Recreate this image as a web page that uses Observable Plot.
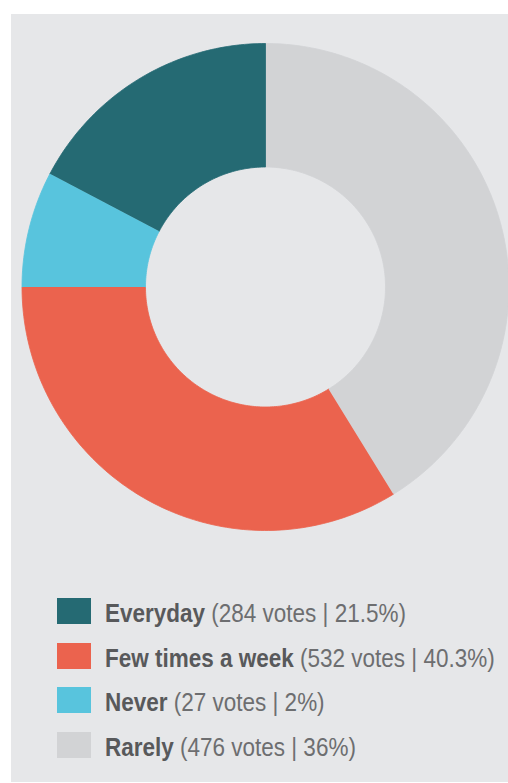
<!DOCTYPE html>
<html>
<head>
<meta charset="utf-8">
<script src="https://cdn.jsdelivr.net/npm/d3@7"></script>
<script src="https://cdn.jsdelivr.net/npm/@observablehq/plot@0.6"></script>
<style>
  html, body { margin: 0; padding: 0; background: #ffffff; overflow: hidden; width: 508px; height: 783px; }
  #panel { position: absolute; left: 11px; top: 14px; width: 497px; height: 768px; background: #e6e7e9; }
  #chart { position: absolute; left: 0; top: 0; }
  .row { position: absolute; left: 57px; height: 26px; display: flex; align-items: flex-start; white-space: nowrap; }
  .sw { width: 34px; height: 26px; flex: none; }
  .txt { margin-left: 14px; position: relative; top: 2px; font-family: "Liberation Sans", Arial, sans-serif; font-size: 26px; line-height: 26px;
         transform: scaleX(0.865); transform-origin: left center; color: #6d6e70; }
  .txt b { color: #58595b; font-weight: 700; }
</style>
</head>
<body>
<div id="panel"></div>
<div id="chart"></div>
<div id="legend"></div>
<script>
// Legend data
const categories = ["Everyday", "Few times a week", "Never", "Rarely"];
const votes = [284, 532, 27, 476];
const percents = ["21.5%", "40.3%", "2%", "36%"];
const colors = ["#256a73", "#eb634e", "#58c4dd", "#d2d3d5"];

// Slices as drawn in the picture, clockwise from 12 o'clock (share of the full circle, %)
const drawOrder = ["Rarely", "Few times a week", "Never", "Everyday"];
const drawnShare = [41.2, 33.8, 7.7, 17.3];

const colorOf = Object.fromEntries(categories.map((c, i) => [c, colors[i]]));

// Geometry (pixels in scale units)
const R_OUT = 243.5, R_IN = 120;
const total = d3.sum(drawnShare);
const pts = [];
let acc = 0;
drawOrder.forEach((cat, i) => {
  const a0 = acc / total * 2 * Math.PI;
  acc += drawnShare[i];
  const a1 = acc / total * 2 * Math.PI;
  const n = Math.max(8, Math.ceil((a1 - a0) / (Math.PI / 180)));
  for (let k = 0; k <= n; k++) {
    const a = a0 + (a1 - a0) * k / n;
    pts.push({cat, x: R_OUT * Math.sin(a), y: R_OUT * Math.cos(a)});
  }
  for (let k = n; k >= 0; k--) {
    const a = a0 + (a1 - a0) * k / n;
    pts.push({cat, x: R_IN * Math.sin(a), y: R_IN * Math.cos(a)});
  }
});

const W = 508, H = 560, CX = 265, CY = 286.5;
const plot = Plot.plot({
  width: W,
  height: H,
  margin: 0,
  style: {background: "transparent", overflow: "hidden"},
  x: {domain: [-CX, W - CX], range: [0, W], axis: null},
  y: {domain: [CY - H, CY], range: [H, 0], axis: null},
  marks: drawOrder.map(cat =>
    Plot.line(pts.filter(p => p.cat === cat), {
      x: "x", y: "y", fill: colorOf[cat], stroke: colorOf[cat], strokeWidth: 0.8, curve: "linear"
    })
  )
});
document.getElementById("chart").appendChild(plot);

// Legend
const legend = document.getElementById("legend");
categories.forEach((c, i) => {
  const row = document.createElement("div");
  row.className = "row";
  row.style.top = (598 + i * 44.6) + "px";
  const sw = document.createElement("div");
  sw.className = "sw";
  sw.style.background = colors[i];
  const t = document.createElement("div");
  t.className = "txt";
  const b = document.createElement("b");
  b.textContent = c;
  t.appendChild(b);
  t.appendChild(document.createTextNode(" (" + votes[i] + " votes | " + percents[i] + ")"));
  row.appendChild(sw);
  row.appendChild(t);
  legend.appendChild(row);
});
</script>
</body>
</html>
